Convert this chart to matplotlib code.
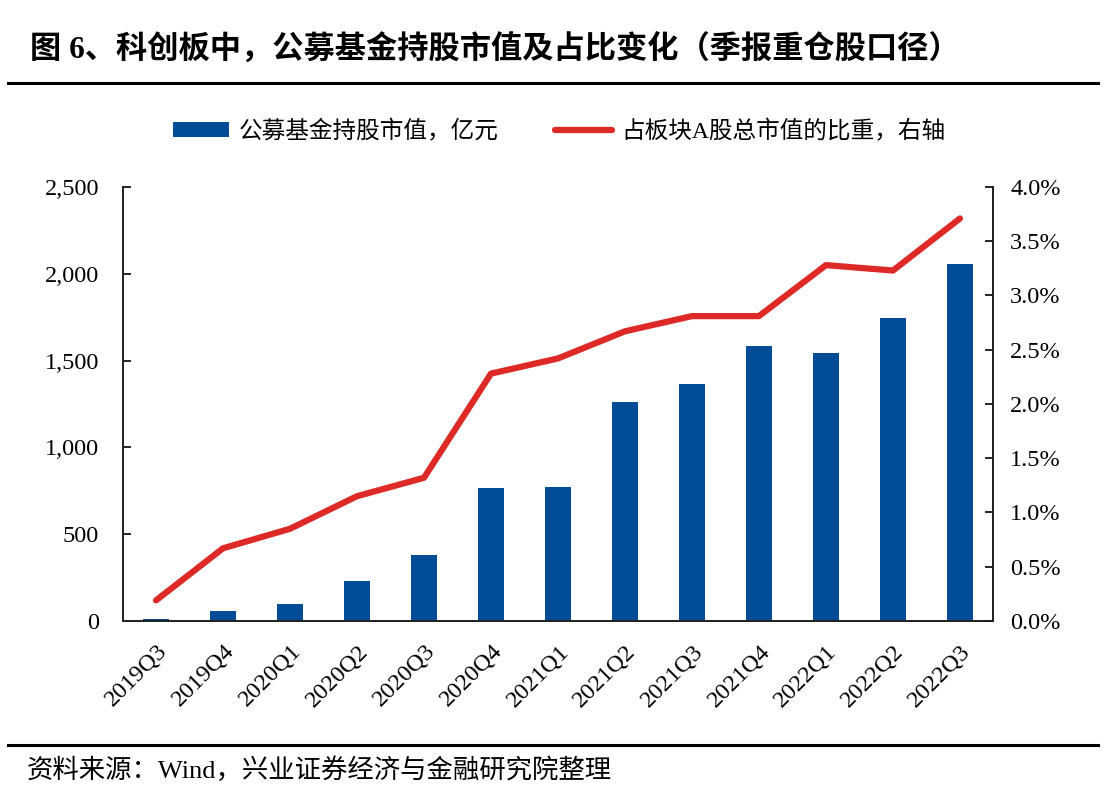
import matplotlib
matplotlib.use("Agg")
import matplotlib.pyplot as plt
from matplotlib.ticker import FuncFormatter, MultipleLocator
import numpy as np

categories = ["2019Q3", "2019Q4", "2020Q1", "2020Q2", "2020Q3", "2020Q4", "2021Q1",
              "2021Q2", "2021Q3", "2021Q4", "2022Q1", "2022Q2", "2022Q3"]
fund_value = [10, 58, 98, 230, 380, 766, 772, 1262, 1365, 1584, 1544, 1745, 2056]
share_pct = [0.19, 0.67, 0.85, 1.15, 1.32, 2.28, 2.42, 2.67, 2.81, 2.81, 3.28, 3.23, 3.71]

bar_label = "公募基金持股市值，亿元"
line_label = "占板块A股总市值的比重，右轴"
title = "图 6、科创板中，公募基金持股市值及占比变化（季报重仓股口径）"
source = "资料来源：Wind，兴业证券经济与金融研究院整理"

BLUE = "#004C97"
RED = "#DE2A26"
num_font = ["Liberation Serif", "Noto Sans CJK SC"]
cjk_font = ["Liberation Serif", "Noto Sans CJK SC"]

fig = plt.figure(figsize=(11.18, 8.05), dpi=100)
ax = fig.add_axes([0.1096, 0.2286, 0.779, 0.5391])
ax2 = ax.twinx()

x = np.arange(len(categories))
ax.bar(x, fund_value, width=0.4, color=BLUE, label=bar_label, zorder=2)
ax2.plot(x, share_pct, color=RED, lw=4.5, solid_capstyle="round", label=line_label, zorder=3)

ax.set_xlim(-0.5, len(categories) - 0.5)
ax.set_ylim(0, 2500)
ax2.set_ylim(0, 4.0)
ax.yaxis.set_major_locator(MultipleLocator(500))
ax2.yaxis.set_major_locator(MultipleLocator(0.5))
ax.yaxis.set_major_formatter(FuncFormatter(lambda v, p: f"{int(v):,}"))
ax2.yaxis.set_major_formatter(FuncFormatter(lambda v, p: f"{v:.1f}%"))

ax.set_xticks(x)
ax.set_xticklabels(categories, rotation=45, ha="right", rotation_mode="anchor",
                   fontsize=17.5, family=num_font)
ax.tick_params(axis="x", length=0, pad=14)
ax.tick_params(axis="y", direction="in", length=6, width=1.2, labelsize=17.5, pad=17)
ax2.tick_params(axis="y", direction="in", length=6, width=1.2, labelsize=17.5, pad=12)
for lab in ax.get_yticklabels() + ax2.get_yticklabels():
    lab.set_family(num_font)

for a in (ax, ax2):
    a.spines["top"].set_visible(False)
    for s in ("left", "right", "bottom"):
        a.spines[s].set_linewidth(1.3)
        a.spines[s].set_color("#222222")

h1, l1 = ax.get_legend_handles_labels()
h2, l2 = ax2.get_legend_handles_labels()
leg = fig.legend(h1 + h2, l1 + l2, loc="center", bbox_to_anchor=(0.5, 0.837), ncol=2,
                 frameon=False, prop={"family": cjk_font, "size": 17},
                 handlelength=2.4, handleheight=0.6, columnspacing=2.4, handletextpad=0.4)

fig.text(0.027, 0.938, title, fontsize=22.5, fontweight="bold",
         family=["Liberation Serif", "Noto Sans CJK SC"], va="center", ha="left")
fig.add_artist(plt.Line2D([0.007, 0.982], [0.897, 0.897], color="black", lw=2.2))
fig.add_artist(plt.Line2D([0.007, 0.982], [0.074, 0.074], color="black", lw=2.2))
fig.text(0.024, 0.043, source, fontsize=19, family=cjk_font, va="center", ha="left")

fig.savefig("out.png", dpi=100)
